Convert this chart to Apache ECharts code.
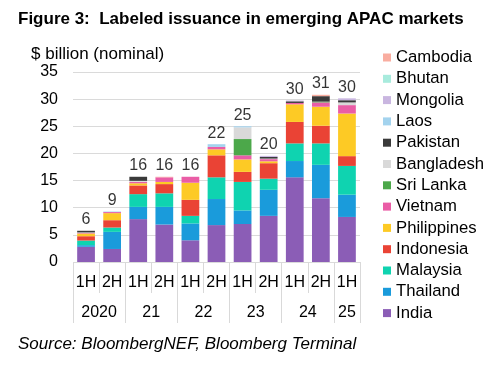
<!DOCTYPE html>
<html>
<head>
<meta charset="utf-8">
<script src="https://cdn.jsdelivr.net/npm/echarts@6/dist/echarts.min.js"></script>
<style>
html,body{margin:0;padding:0;background:#fff;}
#c{width:498px;height:370px;}
</style>
</head>
<body>
<div id="c"></div>
<script>
var halves = ['1H','2H','1H','2H','1H','2H','1H','2H','1H','2H','1H'];
var yearLabels = ['2020','21','22','23','24','25'];
var yTicks = [0,5,10,15,20,25,30,35];

var India       = [2.8, 2.4, 7.9, 6.9, 4.0, 6.8, 7.0, 8.5, 15.6, 11.75, 8.3];
var Thailand    = [0.3, 3.15, 2.25, 3.25, 3.1, 4.8, 2.5, 4.8, 3.0, 6.15, 4.1];
var Malaysia    = [0.85, 0.8, 2.35, 2.5, 1.4, 4.0, 5.25, 2.05, 3.25, 3.95, 5.3];
var Indonesia   = [0.8, 1.35, 1.6, 1.7, 2.95, 4.05, 1.85, 2.85, 3.95, 3.25, 1.8];
var Philippines = [0.5, 1.3, 0.4, 0.4, 3.15, 1.1, 2.3, 0.35, 3.25, 3.5, 7.85];
var Vietnam     = [0.1, 0.2, 0.25, 0.85, 1.1, 0.45, 0.75, 0.4, 0.25, 0.8, 1.55];
var SriLanka    = [0, 0, 0, 0, 0, 0, 3.0, 0, 0, 0.15, 0];
var Bangladesh  = [0.1, 0, 0.2, 0, 0, 0, 2.15, 0.1, 0, 0, 0.5];
var Pakistan    = [0.3, 0, 0.75, 0, 0, 0, 0, 0.3, 0.3, 1.0, 0.4];
var Laos        = [0, 0.1, 0, 0, 0, 0.5, 0.2, 0, 0, 0, 0];
var Mongolia    = [0, 0, 0, 0, 0, 0, 0, 0.2, 0.15, 0, 0.35];
var Bhutan      = [0, 0, 0, 0, 0, 0, 0, 0, 0, 0, 0];
var Cambodia    = [0, 0, 0, 0.1, 0, 0, 0, 0, 0, 0.25, 0];

var stackOrder = [
  ['India', India, '#8B5DB6'],
  ['Thailand', Thailand, '#1A9BDB'],
  ['Malaysia', Malaysia, '#0FD3B0'],
  ['Indonesia', Indonesia, '#EA4335'],
  ['Philippines', Philippines, '#FDCA25'],
  ['Vietnam', Vietnam, '#EA5DA6'],
  ['Sri Lanka', SriLanka, '#4CA84A'],
  ['Bangladesh', Bangladesh, '#D9D9D9'],
  ['Pakistan', Pakistan, '#3A3A3A'],
  ['Laos', Laos, '#A3D3EE'],
  ['Mongolia', Mongolia, '#C9B6E0'],
  ['Bhutan', Bhutan, '#A8EBDD'],
  ['Cambodia', Cambodia, '#F9ADA0']
];

var totals = halves.map(function(_, i){
  var s = 0; stackOrder.forEach(function(r){ s += r[1][i]; }); return s;
});

// secondary axis: 23 points (boundaryGap false) for year labels centred between halves
var yearAxisCats = [];
var yearPos = {2:0, 6:1, 10:2, 14:3, 18:4, 21:5};
for (var k = 0; k < 23; k++) yearAxisCats.push(yearPos[k] !== undefined ? yearLabels[yearPos[k]] : '');

var FONT = '"Liberation Sans", Arial, sans-serif';
var series = stackOrder.map(function(r){
  return {
    name: r[0], type: 'bar', stack: 'total', xAxisIndex: 0,
    barWidth: '68%', data: r[1],
    itemStyle: {color: r[2]},
    emphasis: {disabled: true}
  };
});
series.push({
  name: 'Total', type: 'scatter', xAxisIndex: 0, data: totals, symbolSize: 0,
  label: {show: true, position: 'top', distance: 3, fontSize: 16, fontFamily: FONT, color: '#000',
          formatter: function(p){ return Math.round(p.value); }},
  silent: true
});

var chart = echarts.init(document.getElementById('c'));
chart.setOption({
  animation: false,
  backgroundColor: '#fff',
  title: [
    {text: 'Figure 3:  Labeled issuance in emerging APAC markets', left: 18, top: 11, padding: 0,
     textStyle: {fontSize: 17, fontWeight: 'bold', fontFamily: FONT, color: '#000'}},
    {text: '$ billion (nominal)', left: 31, top: 46, padding: 0,
     textStyle: {fontSize: 17, fontWeight: 'normal', fontFamily: FONT, color: '#000'}},
    {text: 'Source: BloombergNEF, Bloomberg Terminal', left: 18, top: 336, padding: 0,
     textStyle: {fontSize: 17, fontWeight: 'normal', fontStyle: 'italic', fontFamily: FONT, color: '#000'}}
  ],
  legend: {
    orient: 'vertical', left: 383, top: 49, padding: 0,
    itemWidth: 8, itemHeight: 8, itemGap: 4.3,
    icon: 'rect',
    textStyle: {fontSize: 16.7, fontFamily: FONT, color: '#000', lineHeight: 17},
    data: ['Cambodia','Bhutan','Mongolia','Laos','Pakistan','Bangladesh','Sri Lanka','Vietnam','Philippines','Indonesia','Malaysia','Thailand','India'],
    selectedMode: false
  },
  grid: {left: 73, right: 138, top: 72, bottom: 108},
  xAxis: [
    {type: 'category', data: halves, boundaryGap: true,
     axisLine: {show: false},
     axisTick: {show: true, interval: 0, length: 31, lineStyle: {color: '#D9D9D9'}},
     axisLabel: {interval: 0, margin: 13, fontSize: 16, fontFamily: FONT, color: '#000'}},
    {type: 'category', data: yearAxisCats, boundaryGap: false, position: 'bottom',
     axisLine: {show: false},
     axisTick: {show: true, length: 61, lineStyle: {color: '#D9D9D9'},
                interval: function(i){ return i % 4 === 0 || i === 22; }},
     axisLabel: {interval: 0, margin: 43, fontSize: 16, fontFamily: FONT, color: '#000'}}
  ],
  yAxis: {
    type: 'value', min: yTicks[0], max: yTicks[yTicks.length-1], interval: 5,
    axisLine: {show: false}, axisTick: {show: false},
    axisLabel: {margin: 15, fontSize: 16, fontFamily: FONT, color: '#000'},
    splitLine: {show: true, lineStyle: {color: '#DADADA', width: 1}}
  },
  series: series
});
</script>
</body>
</html>
